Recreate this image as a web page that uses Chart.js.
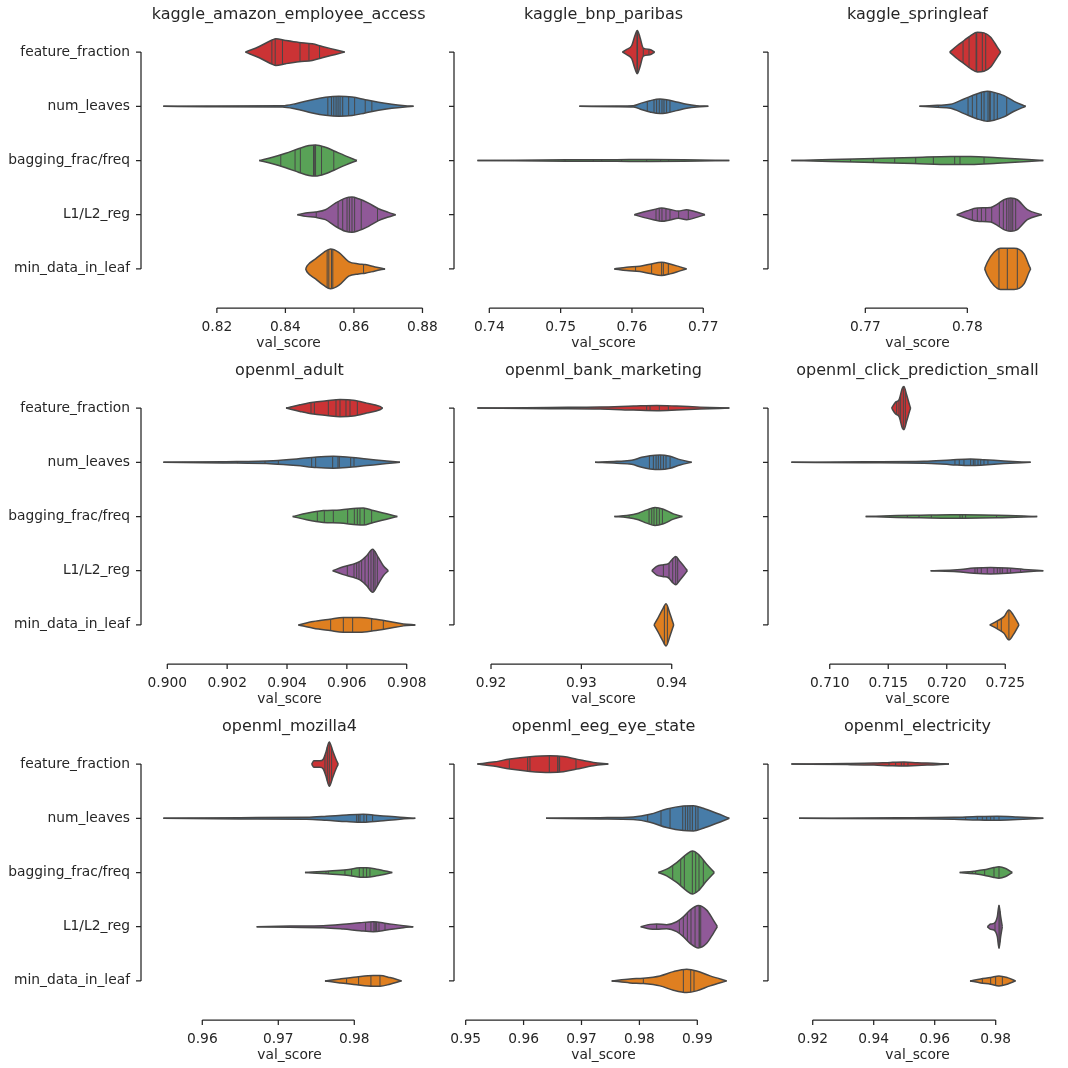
<!DOCTYPE html>
<html>
<head>
<meta charset="utf-8">
<script src="https://cdn.jsdelivr.net/npm/chart.js@4.4.1/dist/chart.umd.min.js"></script>
<style>
  body { margin: 0; background: #fff; }
  #fig { position: relative; width: 1068px; height: 1068px; background: #fff; }
  #fig canvas { position: absolute; }
</style>
</head>
<body>
<div id="fig"></div>
<script>
// categories (rows of every panel) and violin colours
var categories = ["feature_fraction", "num_leaves", "bagging_frac/freq", "L1/L2_reg", "min_data_in_leaf"];
var colors = ["#cb3335", "#477ca8", "#59a257", "#905998", "#df7f20"];
var edge = "#474747";
var ink = "#262626";

// each violin: outline x positions (val_score), half widths (fraction of row), sticks = observed scores

//KAGGLE_AMAZON_EMPLOYEE_ACCESS
var amazonX = [
  [0.82832, 0.83238, 0.83624, 0.83721, 0.84011, 0.84397, 0.84784, 0.85074, 0.85460, 0.85731],
  [0.80436, 0.81692, 0.83914, 0.84300, 0.84784, 0.85170, 0.85557, 0.85943, 0.86329, 0.86716, 0.87102, 0.87489, 0.87740],
  [0.83237, 0.83624, 0.84010, 0.84397, 0.84687, 0.84880, 0.85170, 0.85460, 0.85750, 0.86088],
  [0.84349, 0.84590, 0.84880, 0.85170, 0.85460, 0.85750, 0.85943, 0.86136, 0.86426, 0.86716, 0.87006, 0.87218],
  [0.84590, 0.84638, 0.84880, 0.85122, 0.85315, 0.85557, 0.85846, 0.86136, 0.86329, 0.86619, 0.86909],
];
var amazonW = [
  [0, 0.104, 0.227, 0.245, 0.214, 0.178, 0.153, 0.104, 0.043, 0],
  [0, 0.006, 0.012, 0.049, 0.122, 0.165, 0.184, 0.171, 0.122, 0.073, 0.037, 0.012, 0],
  [0, 0.061, 0.135, 0.220, 0.276, 0.288, 0.245, 0.165, 0.086, 0],
  [0, 0.031, 0.049, 0.092, 0.214, 0.306, 0.325, 0.294, 0.214, 0.110, 0.043, 0],
  [0, 0.061, 0.184, 0.306, 0.367, 0.306, 0.135, 0.092, 0.080, 0.037, 0],
];
var amazonSticks = [
  [0.83605, 0.83702, 0.83914, 0.84426, 0.84687, 0.84996],
  [0.85238, 0.85344, 0.85412, 0.85479, 0.85537, 0.85595, 0.85672, 0.85846, 0.86020, 0.86329, 0.86523],
  [0.83865, 0.84281, 0.84436, 0.84820, 0.84845, 0.84880, 0.85054, 0.85412],
  [0.84900, 0.85537, 0.85672, 0.85798, 0.85866, 0.85943, 0.86020, 0.86213, 0.86687],
  [0.85218, 0.85267, 0.85344, 0.85383, 0.86281],
];
var amazonTicks = ["0.82", "0.84", "0.86", "0.88"];

//KAGGLE_BNP_PARIBAS
var bnpX = [
  [0.75866, 0.75927, 0.75997, 0.76042, 0.76075, 0.76112, 0.76159, 0.76252, 0.76318],
  [0.75262, 0.75785, 0.76019, 0.76112, 0.76253, 0.76393, 0.76486, 0.76627, 0.76767, 0.76907, 0.77071],
  [0.73833, 0.74384, 0.75085, 0.75785, 0.76253, 0.76720, 0.77365],
  [0.76033, 0.76159, 0.76299, 0.76416, 0.76533, 0.76650, 0.76767, 0.76907, 0.77024],
  [0.75752, 0.75925, 0.76112, 0.76253, 0.76416, 0.76533, 0.76673, 0.76767],
];
var bnpW = [
  [0, 0.049, 0.122, 0.306, 0.398, 0.276, 0.073, 0.049, 0],
  [0, 0.006, 0.012, 0.049, 0.104, 0.135, 0.122, 0.080, 0.037, 0.012, 0],
  [0, 0.006, 0.012, 0.015, 0.018, 0.015, 0],
  [0, 0.049, 0.092, 0.122, 0.098, 0.067, 0.092, 0.049, 0],
  [0, 0.031, 0.049, 0.086, 0.122, 0.092, 0.037, 0],
];
var bnpSticks = [
  [0.76070, 0.76078, 0.76159, 0.76238],
  [0.76215, 0.76309, 0.76346, 0.76383, 0.76421, 0.76449, 0.76486, 0.76533],
  [0.74701, 0.75061, 0.75458, 0.75575, 0.75855, 0.76206, 0.76402, 0.76515],
  [0.76337, 0.76383, 0.76421, 0.76477, 0.76533, 0.76655, 0.76790],
  [0.76051, 0.76276, 0.76416, 0.76440, 0.76510],
];
var bnpTicks = ["0.74", "0.75", "0.76", "0.77"];

//KAGGLE_SPRINGLEAF
var springX = [
  [0.77827, 0.77902, 0.77968, 0.78033, 0.78098, 0.78163, 0.78229, 0.78294, 0.78327],
  [0.77530, 0.77706, 0.77837, 0.77968, 0.78098, 0.78196, 0.78261, 0.78359, 0.78458, 0.78572],
  [0.76275, 0.76660, 0.77085, 0.77477, 0.77837, 0.78033, 0.78294, 0.78745],
  [0.77896, 0.78000, 0.78098, 0.78229, 0.78294, 0.78359, 0.78425, 0.78490, 0.78588, 0.78729],
  [0.78170, 0.78196, 0.78261, 0.78327, 0.78458, 0.78556, 0.78605, 0.78621],
];
var springW = [
  [0, 0.122, 0.214, 0.306, 0.367, 0.355, 0.276, 0.092, 0],
  [0, 0.018, 0.037, 0.135, 0.233, 0.276, 0.257, 0.196, 0.092, 0],
  [0, 0.018, 0.037, 0.055, 0.073, 0.073, 0.049, 0],
  [0, 0.073, 0.122, 0.135, 0.196, 0.276, 0.306, 0.276, 0.092, 0],
  [0, 0.122, 0.306, 0.380, 0.380, 0.276, 0.061, 0],
];
var springSticks = [
  [0.77958, 0.78017, 0.78086, 0.78092, 0.78147, 0.78180],
  [0.77716, 0.78007, 0.78049, 0.78092, 0.78138, 0.78164, 0.78203, 0.78219, 0.78225, 0.78262, 0.78294, 0.78386],
  [0.76856, 0.77079, 0.77288, 0.77494, 0.77667, 0.77876, 0.77928, 0.78164],
  [0.78049, 0.78098, 0.78138, 0.78180, 0.78239, 0.78314, 0.78353, 0.78386, 0.78408, 0.78428, 0.78445, 0.78474],
  [0.78310, 0.78392, 0.78490],
];
var springTicks = ["0.77", "0.78"];

//OPENML_ADULT
var adultX = [
  [0.903967, 0.904434, 0.904879, 0.905325, 0.905771, 0.906216, 0.906662, 0.907107, 0.907197],
  [0.899867, 0.901872, 0.903543, 0.904323, 0.904991, 0.905548, 0.905994, 0.906662, 0.907330, 0.907776],
  [0.904189, 0.904657, 0.905214, 0.905771, 0.906328, 0.906551, 0.906885, 0.907330, 0.907687],
  [0.905526, 0.905882, 0.906216, 0.906439, 0.906662, 0.906862, 0.907052, 0.907219, 0.907386],
  [0.904379, 0.904879, 0.905436, 0.905882, 0.906439, 0.906885, 0.907330, 0.907887, 0.908288],
];
var adultW = [
  [0, 0.061, 0.110, 0.135, 0.159, 0.147, 0.092, 0.031, 0],
  [0, 0.012, 0.030, 0.061, 0.098, 0.110, 0.098, 0.061, 0.024, 0],
  [0, 0.061, 0.110, 0.122, 0.153, 0.159, 0.110, 0.049, 0],
  [0, 0.073, 0.122, 0.171, 0.276, 0.398, 0.245, 0.092, 0],
  [0, 0.061, 0.104, 0.135, 0.135, 0.110, 0.073, 0.018, 0],
];
var adultSticks = [
  [0.904802, 0.904914, 0.905381, 0.905637, 0.905771, 0.905971, 0.906105, 0.906350],
  [0.902340, 0.903265, 0.903710, 0.904824, 0.904958, 0.905526, 0.905704, 0.905749, 0.906128, 0.906239],
  [0.905013, 0.905247, 0.905548, 0.906027, 0.906250, 0.906350, 0.906439, 0.906584, 0.906829],
  [0.906016, 0.906239, 0.906328, 0.906406, 0.906495, 0.906607, 0.906718, 0.906807, 0.906885, 0.906941, 0.907019],
  [0.905459, 0.905882, 0.906194, 0.906829, 0.907219],
];
var adultTicks = ["0.900", "0.902", "0.904", "0.906", "0.908"];

//OPENML_BANK_MARKETING
var bankX = [
  [0.91849, 0.92653, 0.93207, 0.93576, 0.93834, 0.94055, 0.94314, 0.94638],
  [0.93151, 0.93391, 0.93557, 0.93668, 0.93760, 0.93871, 0.93982, 0.94092, 0.94221],
  [0.93365, 0.93502, 0.93631, 0.93723, 0.93815, 0.93908, 0.94018, 0.94118],
  [0.93779, 0.93834, 0.93908, 0.93963, 0.94011, 0.94044, 0.94092, 0.94137, 0.94173],
  [0.93804, 0.93852, 0.93900, 0.93937, 0.93982, 0.94022],
];
var bankW = [
  [0, 0.012, 0.018, 0.037, 0.049, 0.037, 0.018, 0],
  [0, 0.018, 0.037, 0.092, 0.122, 0.135, 0.110, 0.049, 0],
  [0, 0.018, 0.061, 0.122, 0.165, 0.135, 0.049, 0],
  [0, 0.080, 0.110, 0.130, 0.220, 0.260, 0.170, 0.080, 0],
  [0, 0.140, 0.290, 0.390, 0.200, 0],
];
var bankSticks = [
  [0.93723, 0.93760, 0.93863, 0.93963],
  [0.93753, 0.93797, 0.93827, 0.93852, 0.93878, 0.93908, 0.93937, 0.93982],
  [0.93528, 0.93749, 0.93779, 0.93804, 0.93834, 0.93863, 0.93897],
  [0.93908, 0.93970, 0.94011, 0.94044, 0.94066],
  [0.93919, 0.93952],
];
var bankTicks = ["0.92", "0.93", "0.94"];

//OPENML_CLICK_PREDICTION_SMALL
var clickX = [
  [0.71529, 0.71563, 0.71592, 0.71620, 0.71634, 0.71657, 0.71686, 0.71691],
  [0.70672, 0.71293, 0.71806, 0.72033, 0.72204, 0.72318, 0.72489, 0.72717],
  [0.71307, 0.71577, 0.71777, 0.72033, 0.72147, 0.72432, 0.72773],
  [0.71862, 0.72090, 0.72233, 0.72375, 0.72517, 0.72660, 0.72825],
  [0.72367, 0.72432, 0.72489, 0.72531, 0.72568, 0.72617],
];
var clickW = [
  [0, 0.110, 0.153, 0.367, 0.398, 0.245, 0.031, 0],
  [0, 0.009, 0.018, 0.043, 0.061, 0.049, 0.024, 0],
  [0, 0.018, 0.024, 0.031, 0.031, 0.024, 0],
  [0, 0.018, 0.049, 0.061, 0.049, 0.024, 0],
  [0, 0.073, 0.153, 0.276, 0.184, 0],
];
var clickSticks = [
  [0.71572, 0.71592, 0.71606, 0.71629, 0.71646],
  [0.72070, 0.72107, 0.72147, 0.72204, 0.72227, 0.72241, 0.72267, 0.72290, 0.72318, 0.72352],
  [0.71663, 0.71763, 0.71868, 0.72113, 0.72133, 0.72161, 0.72426],
  [0.72241, 0.72261, 0.72295, 0.72346, 0.72403, 0.72432, 0.72455, 0.72475, 0.72517, 0.72546, 0.72631],
  [0.72432, 0.72466, 0.72531],
];
var clickTicks = ["0.710", "0.715", "0.720", "0.725"];

//OPENML_MOZILLA4
var mozillaX = [
  [0.97439, 0.97469, 0.97548, 0.97592, 0.97627, 0.97671, 0.97715, 0.97759, 0.97789],
  [0.95487, 0.96496, 0.97373, 0.97636, 0.97899, 0.98118, 0.98338, 0.98601, 0.98803],
  [0.97351, 0.97636, 0.97899, 0.98075, 0.98162, 0.98294, 0.98500],
  [0.96715, 0.97154, 0.97592, 0.97855, 0.98075, 0.98250, 0.98425, 0.98645, 0.98776],
  [0.97614, 0.97812, 0.98031, 0.98250, 0.98338, 0.98469, 0.98623],
];
var mozillaW = [
  [0, 0.060, 0.060, 0.090, 0.220, 0.410, 0.250, 0.090, 0],
  [0, 0.012, 0.018, 0.037, 0.061, 0.073, 0.049, 0.018, 0],
  [0, 0.024, 0.049, 0.086, 0.086, 0.061, 0],
  [0, 0.012, 0.018, 0.043, 0.073, 0.092, 0.061, 0.018, 0],
  [0, 0.037, 0.073, 0.098, 0.098, 0.061, 0],
];
var mozillaSticks = [
  [0.97614, 0.97645, 0.97671, 0.97702],
  [0.98031, 0.98053, 0.98075, 0.98127, 0.98162, 0.98241],
  [0.97628, 0.97658, 0.97877, 0.97965, 0.98066, 0.98118, 0.98162, 0.98206],
  [0.98149, 0.98219, 0.98259, 0.98276, 0.98294, 0.98325, 0.98404],
  [0.97899, 0.98057, 0.98219, 0.98338],
];
var mozillaTicks = ["0.96", "0.97", "0.98"];

//OPENML_EEG_EYE_STATE
var eegX = [
  [0.95201, 0.95477, 0.95765, 0.96110, 0.96456, 0.96686, 0.96916, 0.97204, 0.97463],
  [0.96387, 0.97320, 0.97895, 0.98183, 0.98471, 0.98759, 0.98932, 0.99104, 0.99335, 0.99553],
  [0.98327, 0.98471, 0.98644, 0.98817, 0.98914, 0.99018, 0.99162, 0.99294],
  [0.98022, 0.98183, 0.98298, 0.98471, 0.98644, 0.98759, 0.98874, 0.99018, 0.99162, 0.99277, 0.99346],
  [0.97521, 0.97838, 0.98068, 0.98356, 0.98586, 0.98817, 0.98989, 0.99220, 0.99508],
];
var eegW = [
  [0, 0.037, 0.092, 0.135, 0.153, 0.141, 0.092, 0.031, 0],
  [0, 0.012, 0.024, 0.073, 0.171, 0.227, 0.233, 0.184, 0.092, 0],
  [0, 0.061, 0.184, 0.337, 0.398, 0.337, 0.153, 0],
  [0, 0.043, 0.049, 0.037, 0.092, 0.184, 0.306, 0.392, 0.306, 0.122, 0],
  [0, 0.037, 0.049, 0.092, 0.171, 0.214, 0.184, 0.092, 0],
];
var eegSticks = [
  [0.95754, 0.96070, 0.96110, 0.96444, 0.96588, 0.96612, 0.96622, 0.96905],
  [0.98143, 0.98373, 0.98529, 0.98748, 0.98794, 0.98834, 0.98874, 0.98915, 0.98972, 0.99012],
  [0.98575, 0.98713, 0.98776, 0.98914, 0.98972, 0.99029, 0.99104],
  [0.98298, 0.98690, 0.98759, 0.98828, 0.98891, 0.98961, 0.99030, 0.99040, 0.99059],
  [0.98068, 0.98759, 0.98886, 0.98943],
];
var eegTicks = ["0.95", "0.96", "0.97", "0.98", "0.99"];

//OPENML_ELECTRICITY
var elecX = [
  [0.91300, 0.93136, 0.94010, 0.94556, 0.94993, 0.95430, 0.96086, 0.96469],
  [0.91551, 0.94775, 0.96633, 0.97398, 0.98053, 0.98709, 0.99561],
  [0.96818, 0.97288, 0.97616, 0.97944, 0.98108, 0.98327, 0.98545],
  [0.97726, 0.97835, 0.97944, 0.98053, 0.98108, 0.98163, 0.98217],
  [0.97158, 0.97507, 0.97835, 0.98108, 0.98381, 0.98654],
];
var elecW = [
  [0, 0.009, 0.018, 0.031, 0.037, 0.024, 0.012, 0],
  [0, 0.009, 0.018, 0.031, 0.037, 0.024, 0],
  [0, 0.024, 0.049, 0.092, 0.104, 0.073, 0],
  [0, 0.049, 0.061, 0.184, 0.398, 0.184, 0],
  [0, 0.037, 0.061, 0.092, 0.061, 0],
];
var elecSticks = [
  [0.94502, 0.94720, 0.94906, 0.94993, 0.95124],
  [0.97015, 0.97398, 0.97562, 0.97704, 0.97835, 0.97944, 0.98108],
  [0.97092, 0.97234, 0.97343, 0.97638, 0.97944, 0.98108],
  [0.97977, 0.98108, 0.98141],
  [0.97562, 0.97835, 0.97999, 0.98218],
];
var elecTicks = ["0.92", "0.94", "0.96", "0.98"];

var panels = [
  { title: "kaggle_amazon_employee_access", xs: amazonX, ws: amazonW, sticks: amazonSticks, ticks: amazonTicks, min: 0.80078, max: 0.88107 },
  { title: "kaggle_bnp_paribas", xs: bnpX, ws: bnpW, sticks: bnpSticks, ticks: bnpTicks, min: 0.73645, max: 0.77557 },
  { title: "kaggle_springleaf", xs: springX, ws: springW, sticks: springSticks, ticks: springTicks, min: 0.76144, max: 0.78879 },
  { title: "openml_adult", xs: adultX, ws: adultW, sticks: adultSticks, ticks: adultTicks, min: 0.899455, max: 0.908712 },
  { title: "openml_bank_marketing", xs: bankX, ws: bankW, sticks: bankSticks, ticks: bankTicks, min: 0.91701, max: 0.94789 },
  { title: "openml_click_prediction_small", xs: clickX, ws: clickW, sticks: clickSticks, ticks: clickTicks, min: 0.70558, max: 0.72942 },
  { title: "openml_mozilla4", xs: mozillaX, ws: mozillaW, sticks: mozillaSticks, ticks: mozillaTicks, min: 0.95325, max: 0.98970 },
  { title: "openml_eeg_eye_state", xs: eegX, ws: eegW, sticks: eegSticks, ticks: eegTicks, min: 0.94971, max: 0.99789 },
  { title: "openml_electricity", xs: elecX, ws: elecW, sticks: elecSticks, ticks: elecTicks, min: 0.90862, max: 1.00010 },
];

Chart.defaults.font.family = "'DejaVu Sans', sans-serif";
Chart.defaults.color = ink;
var labelSize = 13.8;

// same monotone cubic as chart.js uses, so sticks stop on the outline
function monoEval(xs, ys, x) {
  var n = xs.length;
  if (x <= xs[0] || x >= xs[n - 1]) return 0;
  var d = [], m = [], i;
  for (i = 0; i < n - 1; i++) d.push((ys[i + 1] - ys[i]) / (xs[i + 1] - xs[i]));
  for (i = 0; i < n; i++) {
    if (i === 0) m.push(d[0]);
    else if (i === n - 1) m.push(d[n - 2]);
    else m.push(Math.sign(d[i - 1]) !== Math.sign(d[i]) ? 0 : (d[i - 1] + d[i]) / 2);
  }
  for (i = 0; i < n - 1; i++) {
    if (d[i] === 0) { m[i] = m[i + 1] = 0; continue; }
    var a = m[i] / d[i], b = m[i + 1] / d[i], sq = a * a + b * b;
    if (sq <= 9) continue;
    var tau = 3 / Math.sqrt(sq);
    m[i] = a * tau * d[i];
    m[i + 1] = b * tau * d[i];
  }
  for (i = 0; i < n - 1; i++) if (x <= xs[i + 1]) break;
  var h = xs[i + 1] - xs[i], t = (x - xs[i]) / h;
  var t2 = t * t, t3 = t2 * t;
  return (2 * t3 - 3 * t2 + 1) * ys[i] + (t3 - 2 * t2 + t) * h * m[i] +
    (-2 * t3 + 3 * t2) * ys[i + 1] + (t3 - t2) * h * m[i + 1];
}

function makeDecor(p) {
  return {
    id: "decor",
    afterDatasetsDraw: function (chart) {
      var ctx = chart.ctx, xs = chart.scales.x, ys = chart.scales.y;
      ctx.save();
      ctx.strokeStyle = edge;
      ctx.lineWidth = 1;
      p.sticks.forEach(function (row, r) {
        row.forEach(function (s) {
          var w = monoEval(p.xs[r], p.ws[r], s);
          var px = xs.getPixelForValue(s);
          ctx.beginPath();
          ctx.moveTo(px, ys.getPixelForValue(r - w));
          ctx.lineTo(px, ys.getPixelForValue(r + w));
          ctx.stroke();
        });
      });
      ctx.restore();
    },
    afterDraw: function (chart) {
      var ctx = chart.ctx, area = chart.chartArea, xs = chart.scales.x, ys = chart.scales.y;
      ctx.save();
      ctx.strokeStyle = ink;
      ctx.lineWidth = 1.25;
      // trimmed, offset spines
      var by = area.bottom + 12;
      var x0 = xs.getPixelForValue(parseFloat(p.ticks[0]));
      var x1 = xs.getPixelForValue(parseFloat(p.ticks[p.ticks.length - 1]));
      ctx.beginPath();
      ctx.moveTo(x0, by);
      ctx.lineTo(x1, by);
      p.ticks.forEach(function (t) {
        var tx = xs.getPixelForValue(parseFloat(t));
        ctx.moveTo(tx, by);
        ctx.lineTo(tx, by + 5);
      });
      var lx = area.left - 10;
      ctx.moveTo(lx, ys.getPixelForValue(0));
      ctx.lineTo(lx, ys.getPixelForValue(categories.length - 1));
      categories.forEach(function (c, i) {
        var ty = ys.getPixelForValue(i);
        ctx.moveTo(lx - 5, ty);
        ctx.lineTo(lx, ty);
      });
      ctx.stroke();
      // title
      ctx.fillStyle = ink;
      ctx.font = "16px 'DejaVu Sans'";
      ctx.textAlign = "center";
      ctx.textBaseline = "alphabetic";
      ctx.fillText(p.title, (area.left + area.right) / 2, area.top - 6);
      ctx.restore();
    },
  };
}

var fig = document.getElementById("fig");
var colLeft = [0, 440, 754], colWidth = [440, 314, 314];
var axisWidth = [151, 24, 24], padRight = [12, 11, 11];

panels.forEach(function (p, idx) {
  var col = idx % 3, row = Math.floor(idx / 3);
  var canvas = document.createElement("canvas");
  canvas.width = colWidth[col];
  canvas.height = 356;
  canvas.style.left = colLeft[col] + "px";
  canvas.style.top = row * 356 + "px";
  fig.appendChild(canvas);

  var datasets = [];
  p.xs.forEach(function (xv, r) {
    var wv = p.ws[r];
    var base = {
      type: "line",
      borderColor: edge,
      borderWidth: 1.5,
      pointRadius: 0,
      pointHitRadius: 0,
      cubicInterpolationMode: "monotone",
      borderJoinStyle: "round",
    };
    datasets.push(Object.assign({}, base, {
      data: xv.map(function (x, i) { return { x: x, y: r - wv[i] }; }),
      fill: false,
    }));
    datasets.push(Object.assign({}, base, {
      data: xv.map(function (x, i) { return { x: x, y: r + wv[i] }; }),
      backgroundColor: colors[r],
      fill: "-1",
    }));
  });

  new Chart(canvas, {
    type: "line",
    data: { datasets: datasets },
    options: {
      responsive: false,
      animation: false,
      layout: { padding: { top: 25, right: padRight[col], left: 0, bottom: 0 } },
      plugins: { legend: { display: false }, tooltip: { enabled: false } },
      scales: {
        x: {
          type: "linear",
          min: p.min,
          max: p.max,
          afterBuildTicks: function (s) {
            s.ticks = p.ticks.map(function (t) { return { value: parseFloat(t) }; });
          },
          afterFit: function (s) { s.height = 60; },
          ticks: {
            callback: function (v, i) { return p.ticks[i]; },
            padding: 2,
            autoSkip: false,
            maxRotation: 0,
            font: { size: labelSize },
            color: ink,
          },
          grid: { display: false, drawTicks: true, tickLength: 21 },
          border: { display: false },
          title: {
            display: true,
            text: "val_score",
            font: { size: labelSize },
            color: ink,
            padding: { top: 0, bottom: 4.5 },
          },
        },
        y: {
          type: "linear",
          reverse: true,
          min: -0.5,
          max: categories.length - 0.5,
          afterBuildTicks: function (s) {
            s.ticks = categories.map(function (c, i) { return { value: i }; });
          },
          afterFit: function (s) { s.width = axisWidth[col]; },
          ticks: {
            display: col === 0,
            callback: function (v) { return categories[v]; },
            padding: 3,
            font: { size: labelSize },
            color: ink,
          },
          grid: { display: false, drawTicks: true, tickLength: 18 },
          border: { display: false },
        },
      },
    },
    plugins: [makeDecor(p)],
  });
});
</script>
</body>
</html>
